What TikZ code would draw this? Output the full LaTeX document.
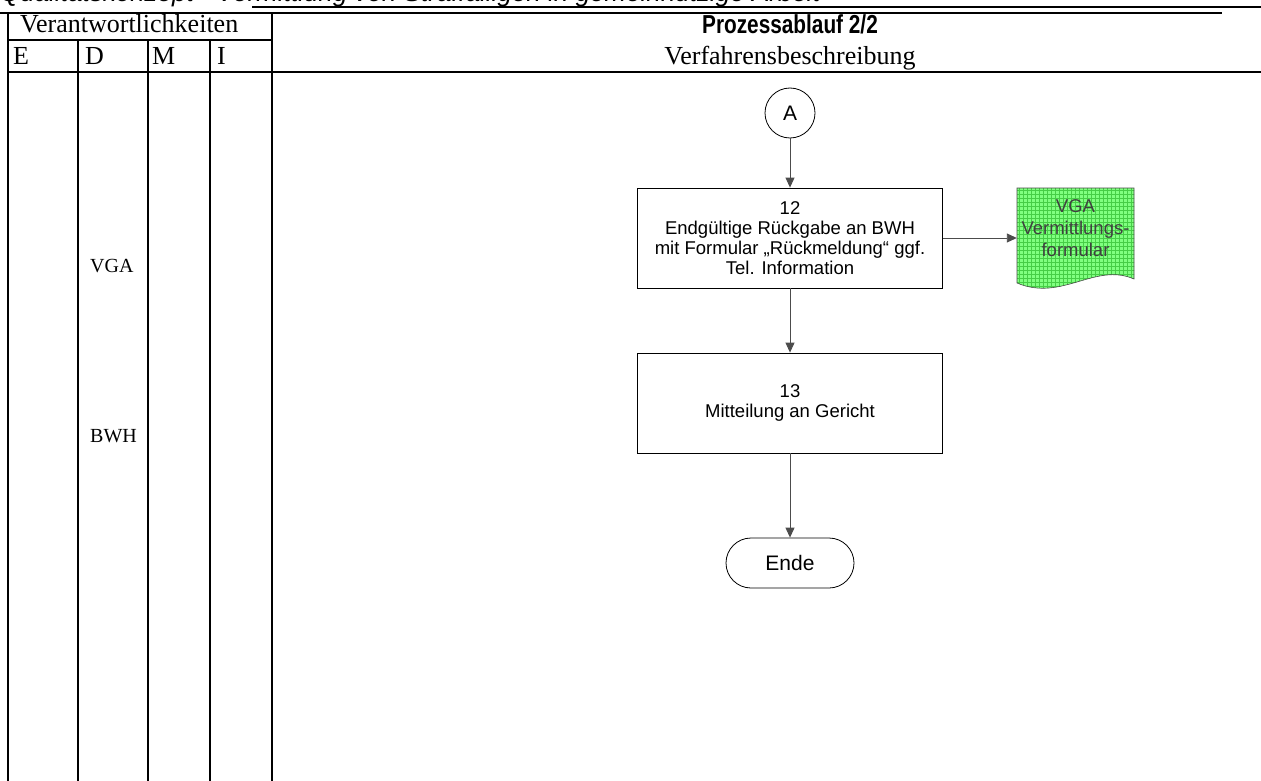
\documentclass[tikz,border=0pt]{standalone}
\usepackage{fontspec}
\setmainfont{Liberation Serif}
\newfontfamily\arialfont{Liberation Sans}
\newfontfamily\headfont[FakeStretch=0.8]{Liberation Sans}
\usetikzlibrary{arrows.meta}
\definecolor{docgreen}{RGB}{128,255,128}
\definecolor{gridgreen}{RGB}{70,205,70}
\newcommand{\fsz}[1]{\fontsize{#1}{#1}\selectfont}

\begin{document}
\begin{tikzpicture}[x=1pt, y=-1pt,
    table/.style={line width=2pt},
    label/.style={anchor=base west, inner sep=0pt},
    stepbox/.style={draw, line width=0.8pt, minimum width=305pt, minimum height=100pt,
      inner sep=0pt, align=center, font=\arialfont\fontsize{18.5}{20}\selectfont},
    flow/.style={draw=black!70, line width=0.9pt, -{Triangle[length=10pt,width=9pt]}}]
  \useasboundingbox (0,0) rectangle (1261,781);

  \node[label, font=\arialfont\itshape\fsz{26}] (qtitle) at (0,2)
    {Qualitätskonzept - Vermittlung von Straffälligen in gemeinnützige Arbeit};

  \draw[table] (252,7) -- (1261,7);
  \draw[table] (0,13) -- (1222,13);
  \draw[table] (8,40) -- (272,40);
  \draw[table] (8,72.5) -- (1261,72.5);
  \foreach \x in {8,272} \draw[table] (\x,13) -- (\x,781);
  \foreach \x in {78,148,210} \draw[table] (\x,40) -- (\x,781);

  \node[label, font=\fsz{26}] (verant) at (20,33) {Verantwortlichkeiten};
  \foreach \x/\l in {13/E,85/D,152/M,217/I}
    \node[label, font=\fsz{26}] (col\l) at (\x,65) {\l};
  \node[anchor=base, inner sep=0pt, font=\headfont\bfseries\fsz{26}] (ptitle) at (790,34)
    {Prozessablauf 2/2};
  \node[anchor=base, inner sep=0pt, font=\fsz{26}] (vtitle) at (790,65)
    {Verfahrensbeschreibung};

  \node[label, font=\fsz{20}] (roleVGA) at (90,272) {VGA};
  \node[label, font=\fsz{20}] (roleBWH) at (90,442) {BWH};

  \node[circle, draw, line width=0.8pt, minimum size=50pt, inner sep=0pt,
    font=\arialfont\fsz{21}] (conA) at (790,113) {A};
  \node[stepbox] (step12) at (790,238)
    {12\\Endgültige Rückgabe an BWH\\mit Formular „Rückmeldung“ ggf.\\Tel. Information};
  \node[stepbox] (step13) at (790,403) {13\\Mitteilung an Gericht};
  \node[draw, line width=0.8pt, rounded corners=25pt, minimum width=128pt,
    minimum height=50pt, font=\arialfont\fsz{21}] (ende) at (790,563) {Ende};

  \fill[docgreen] (1017,188) -- (1134,188) -- (1134,279)
    .. controls (1095,262) and (1062,302) .. (1017,283) -- cycle;
  \begin{scope}
    \clip (1017,188) -- (1134,188) -- (1134,279)
      .. controls (1095,262) and (1062,302) .. (1017,283) -- cycle;
    \foreach \gx in {1019,1023,...,1135} \draw[gridgreen, line width=0.6pt] (\gx,186) -- (\gx,300);
    \foreach \gy in {190,194,...,300} \draw[gridgreen, line width=0.6pt] (1015,\gy) -- (1136,\gy);
  \end{scope}
  \draw[line width=0.6pt, black!70] (1017,188) -- (1134,188) -- (1134,279)
    .. controls (1095,262) and (1062,302) .. (1017,283) -- cycle;
  \node[minimum width=117pt, inner sep=0pt, align=center, text=black!75,
    font=\arialfont\fontsize{18.5}{22}\selectfont] (vgadoc) at (1075.5,228)
    {VGA\\Vermittlungs-\\formular};

  \draw[flow] (conA) -- (step12);
  \draw[flow] (step12) -- (step13);
  \draw[flow] (step13) -- (ende);
  \draw[flow] (step12.east) -- (vgadoc.west |- step12.east);
\end{tikzpicture}
\end{document}
